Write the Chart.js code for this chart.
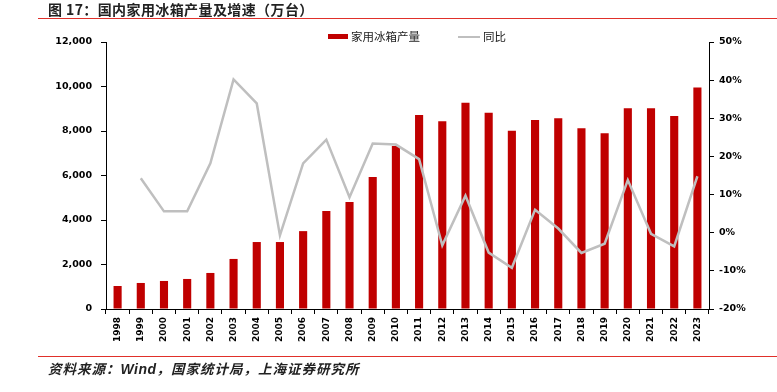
<!DOCTYPE html>
<html>
<head>
<meta charset="utf-8">
<script src="https://cdn.jsdelivr.net/npm/chart.js@4"></script>
<style>
  html, body { margin: 0; padding: 0; background: #fff; }
  #wrap { position: relative; width: 777px; height: 392px; overflow: hidden; }
  #c { position: absolute; left: 0; top: 0; }
  .title { position: absolute; left: 48px; top: 0px; font: bold 14px "Noto Sans CJK SC", sans-serif; color: #222; letter-spacing: 0.4px; white-space: nowrap; line-height: 18px; }
  .rule { position: absolute; left: 38px; right: 0; height: 1px; background: #e0302a; }
  .legend { position: absolute; top: 28px; font: 11.5px "Noto Sans CJK SC", sans-serif; color: #222; white-space: nowrap; line-height: 16px; }
  .swatch-bar { display: inline-block; width: 20px; height: 5px; background: #c00000; vertical-align: middle; margin-right: 3px; position: relative; top: -1px; }
  .swatch-line { display: inline-block; width: 22px; height: 2px; background: #bfbfbf; vertical-align: middle; margin-right: 3px; position: relative; top: -1px; }
  .source { position: absolute; left: 48px; top: 359px; font: italic bold 13.5px "Noto Sans CJK SC", sans-serif; color: #222; white-space: nowrap; line-height: 18px; letter-spacing: 1px; }
  .source b { font-family: "Liberation Sans", Arial, sans-serif; font-size: 14px; letter-spacing: 0.5px; }
</style>
</head>
<body>
<div id="wrap">
  <canvas id="c" width="777" height="392"></canvas>
  <div class="title">图 17：国内家用冰箱产量及增速（万台）</div>
  <div class="rule" style="top:18px"></div>
  <div class="legend" style="left:328px"><span class="swatch-bar"></span>家用冰箱产量</div>
  <div class="legend" style="left:458px"><span class="swatch-line"></span>同比</div>
  <div class="rule" style="top:356px"></div>
  <div class="source">资料来源：<b>Wind</b>，国家统计局，上海证券研究所</div>
</div>
<script>
const years = ['1998','1999','2000','2001','2002','2003','2004','2005','2006','2007','2008','2009','2010','2011','2012','2013','2014','2015','2016','2017','2018','2019','2020','2021','2022','2023'];
const outputWanTai = [1034, 1170, 1260, 1350, 1620, 2250, 3010, 3010, 3500, 4400, 4810, 5930, 7330, 8720, 8440, 9270, 8820, 8010, 8490, 8570, 8120, 7900, 9020, 9020, 8670, 9960];
const yoyGrowth = [null, 0.143, 0.056, 0.056, 0.182, 0.402, 0.339, -0.007, 0.182, 0.244, 0.093, 0.234, 0.231, 0.193, -0.033, 0.097, -0.052, -0.092, 0.060, 0.011, -0.053, -0.029, 0.138, -0.003, -0.036, 0.148];
const leftTicks = [0, 2000, 4000, 6000, 8000, 10000, 12000];
const rightTicks = [-0.2, -0.1, 0, 0.1, 0.2, 0.3, 0.4, 0.5];

const tickFont = { family: '"DejaVu Sans", sans-serif', size: 9.5, weight: 'bold' };

new Chart(document.getElementById('c'), {
  type: 'bar',
  data: {
    labels: years,
    datasets: [
      {
        type: 'line',
        label: '同比',
        data: yoyGrowth,
        yAxisID: 'y1',
        borderColor: '#bfbfbf',
        borderWidth: 2.5,
        pointRadius: 0,
        tension: 0,
        spanGaps: false,
        order: 0
      },
      {
        type: 'bar',
        label: '家用冰箱产量',
        data: outputWanTai,
        yAxisID: 'y',
        backgroundColor: '#c00000',
        borderWidth: 0,
        categoryPercentage: 1,
        barPercentage: 0.35,
        order: 1
      }
    ]
  },
  options: {
    responsive: false,
    animation: false,
    devicePixelRatio: 1,
    layout: { padding: { top: 42, bottom: 48, left: 0, right: 0 } },
    plugins: { legend: { display: false }, tooltip: { enabled: false }, title: { display: false } },
    scales: {
      x: {
        offset: true,
        grid: { offset: true, drawOnChartArea: false, drawTicks: true, tickLength: 5, color: '#000', lineWidth: 1 },
        border: { color: '#000', width: 1 },
        ticks: { minRotation: 90, maxRotation: 90, autoSkip: false, font: { family: '"DejaVu Sans", sans-serif', size: 9, weight: 'bold' }, color: '#000', padding: 3 },
        afterFit: s => { s.height = 35; }
      },
      y: {
        position: 'left',
        min: 0, max: 12000,
        afterBuildTicks: s => { s.ticks = leftTicks.map(v => ({ value: v })); },
        ticks: { font: tickFont, color: '#000', padding: 9, callback: v => v.toLocaleString('en-US') },
        grid: { drawOnChartArea: false, drawTicks: true, tickLength: 5, color: '#000' },
        border: { color: '#000', width: 1 },
        afterFit: s => { s.width = 106; }
      },
      y1: {
        position: 'right',
        min: -0.2, max: 0.5,
        afterBuildTicks: s => { s.ticks = rightTicks.map(v => ({ value: v })); },
        ticks: { font: tickFont, color: '#000', padding: 5, callback: v => Math.round(v * 100) + '%' },
        grid: { drawOnChartArea: false, drawTicks: true, tickLength: 5, color: '#000' },
        border: { color: '#000', width: 1 },
        afterFit: s => { s.width = 68; }
      }
    }
  }
});
</script>
</body>
</html>
